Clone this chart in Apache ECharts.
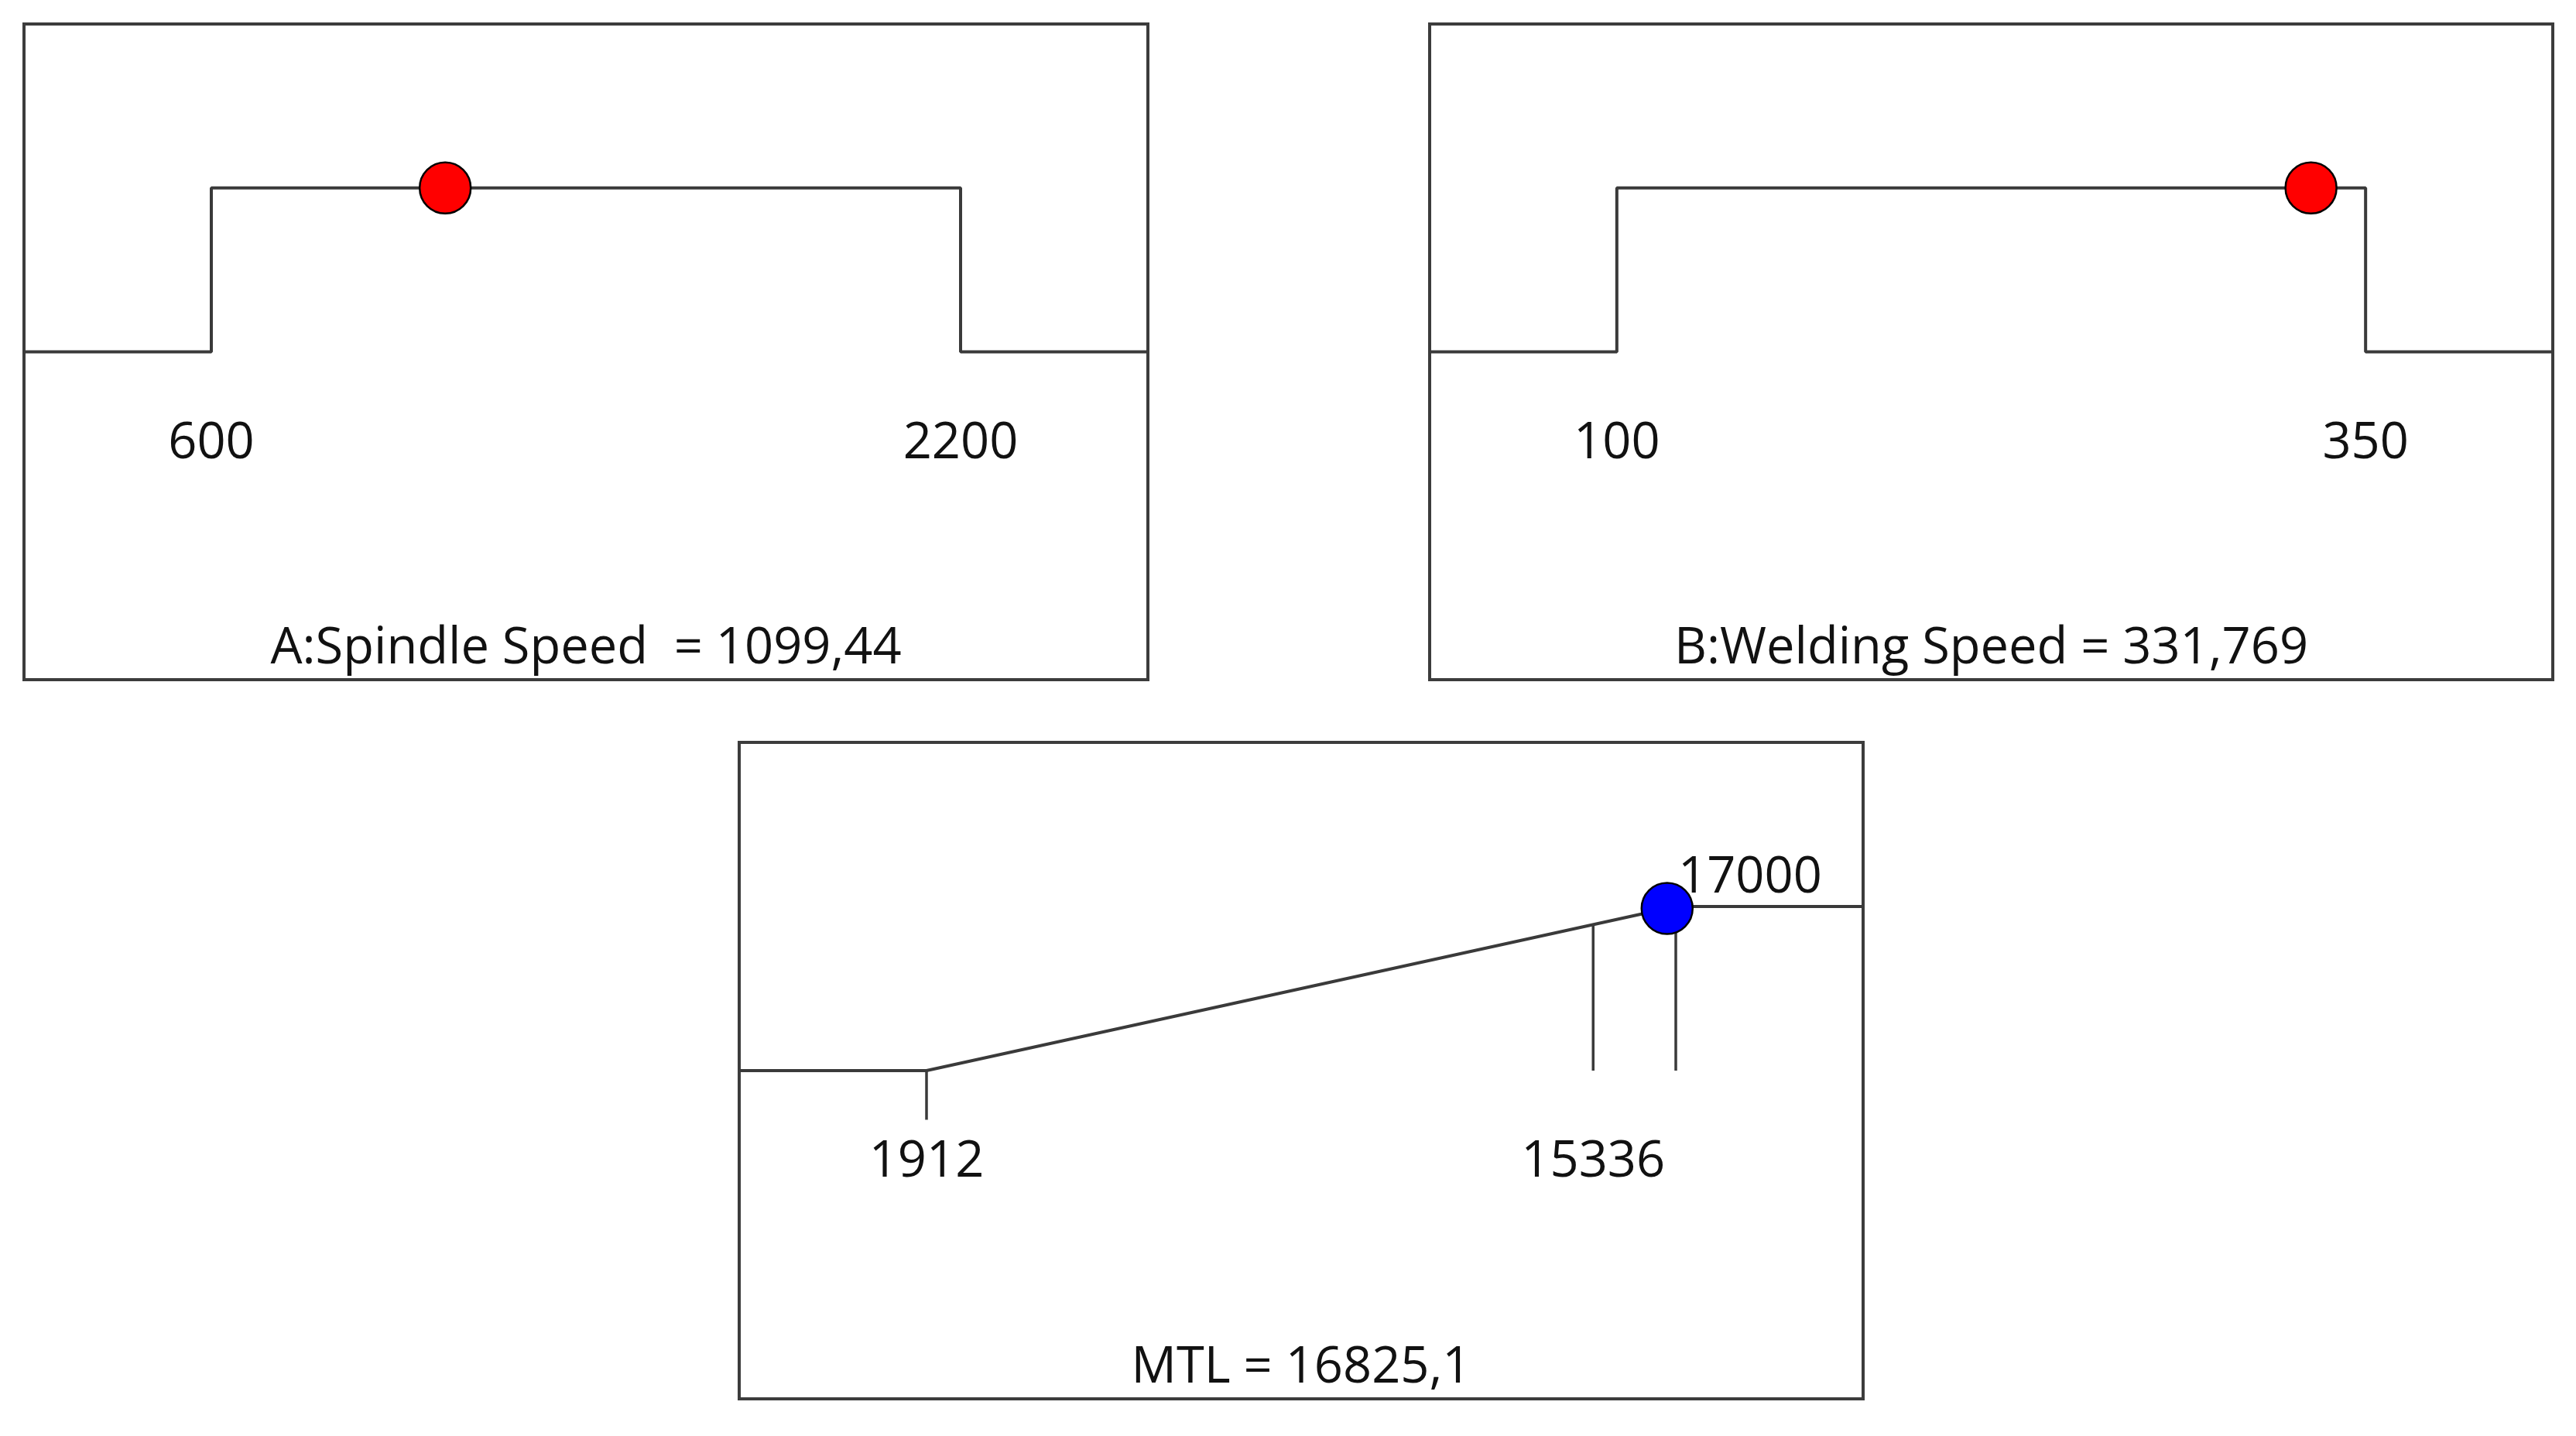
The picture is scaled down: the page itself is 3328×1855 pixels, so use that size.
<!DOCTYPE html>
<html>
<head>
<meta charset="utf-8">
<script src="https://cdn.jsdelivr.net/npm/echarts@6/dist/echarts.min.js"></script>
<style>
  html, body { margin: 0; padding: 0; background: #fff; }
  #main { width: 3328px; height: 1855px; }
</style>
</head>
<body>
<div id="main"></div>
<script>
// factor panels (A, B)
const factorNames = ['A:Spindle Speed ', 'B:Welding Speed'];
const factorLow = [600, 100];
const factorHigh = [2200, 350];
const factorValues = [1099.44, 331.769];

// response panel (MTL)
const responseName = 'MTL';
const responseLow = 1912;
const responseMid = 15336;
const responseTarget = 17000;
const responseValue = 16825.1;

const FONT = 'Open Sans';
const FS = 65;
const LINE = '#3a3a3a';
const TEXT = '#111';
const LABEL_Y = -0.56;

const grids = [
  { left: 31, top: 31, width: 1452, height: 847 },
  { left: 1847, top: 31, width: 1451, height: 847 },
  { left: 955, top: 959, width: 1452, height: 848 }
];

function pad(lo, hi) {
  const p = (hi - lo) * 0.25;
  return [lo - p, hi + p];
}

function fmt(v) {
  return String(v).replace('.', ',');
}

const ranges = [
  pad(factorLow[0], factorHigh[0]),
  pad(factorLow[1], factorHigh[1]),
  pad(responseLow, responseTarget)
];

const series = [];

function lineSeries(idx, data, width) {
  series.push({
    type: 'line', xAxisIndex: idx, yAxisIndex: idx,
    data: data, symbol: 'none', silent: true,
    lineStyle: { color: LINE, width: width || 4 },
    z: 2
  });
}

function labelSeries(idx, points, position, distance) {
  series.push({
    type: 'scatter', xAxisIndex: idx, yAxisIndex: idx,
    data: points, symbolSize: 0, silent: true,
    itemStyle: { opacity: 1 },
    label: {
      show: true, position: position || 'inside',
      distance: distance || 0,
      formatter: p => String(p.value[0]),
      fontFamily: FONT, fontSize: FS, color: TEXT
    },
    z: 6
  });
}

function markerSeries(idx, point, color) {
  series.push({
    type: 'scatter', xAxisIndex: idx, yAxisIndex: idx,
    data: [point], symbol: 'circle', symbolSize: 66,
    itemStyle: { color: color, borderColor: '#000', borderWidth: 2.5, opacity: 1 },
    z: 5
  });
}

// A and B: step profile
for (let i = 0; i < 2; i++) {
  const [mn, mx] = ranges[i];
  lineSeries(i, [
    [mn, 0], [factorLow[i], 0], [factorLow[i], 1],
    [factorHigh[i], 1], [factorHigh[i], 0], [mx, 0]
  ]);
  labelSeries(i, [[factorLow[i], LABEL_Y], [factorHigh[i], LABEL_Y]]);
  markerSeries(i, [factorValues[i], 1], '#ff0000');
}

// MTL: ramp desirability
const ramp = v => (v - responseLow) / (responseTarget - responseLow);
const [cmn, cmx] = ranges[2];
lineSeries(2, [[cmn, 0], [responseLow, 0], [responseTarget, 1], [cmx, 1]]);
lineSeries(2, [[responseLow, 0], [responseLow, -0.3]], 3.5);
lineSeries(2, [[responseMid, ramp(responseMid)], [responseMid, 0]], 3.5);
lineSeries(2, [[responseTarget, 1], [responseTarget, 0]], 3.5);
labelSeries(2, [[responseLow, LABEL_Y], [responseMid, LABEL_Y]]);
labelSeries(2, [[responseTarget, 1.17]], 'right', 3);
markerSeries(2, [responseValue, ramp(responseValue)], '#0000ff');

const titles = [
  factorNames[0] + ' = ' + fmt(factorValues[0]),
  factorNames[1] + ' = ' + fmt(factorValues[1]),
  responseName + ' = ' + fmt(responseValue)
];

const chart = echarts.init(document.getElementById('main'));
chart.setOption({
  animation: false,
  backgroundColor: '#fff',
  grid: grids.map(g => Object.assign({
    show: true, borderColor: '#3c3c3c', borderWidth: 4,
    backgroundColor: 'transparent', containLabel: false
  }, g)),
  xAxis: ranges.map((r, i) => ({
    type: 'value', gridIndex: i, min: r[0], max: r[1], show: false
  })),
  yAxis: ranges.map((r, i) => ({
    type: 'value', gridIndex: i, min: -2, max: 2, show: false
  })),
  graphic: grids.map((g, i) => ({
    type: 'text',
    x: g.left + g.width / 2,
    y: g.top + g.height - 40,
    style: {
      text: titles[i], fontFamily: FONT, fontSize: FS, fill: TEXT,
      align: 'center', verticalAlign: 'middle'
    },
    z: 10
  })),
  series: series
});
</script>
</body>
</html>
